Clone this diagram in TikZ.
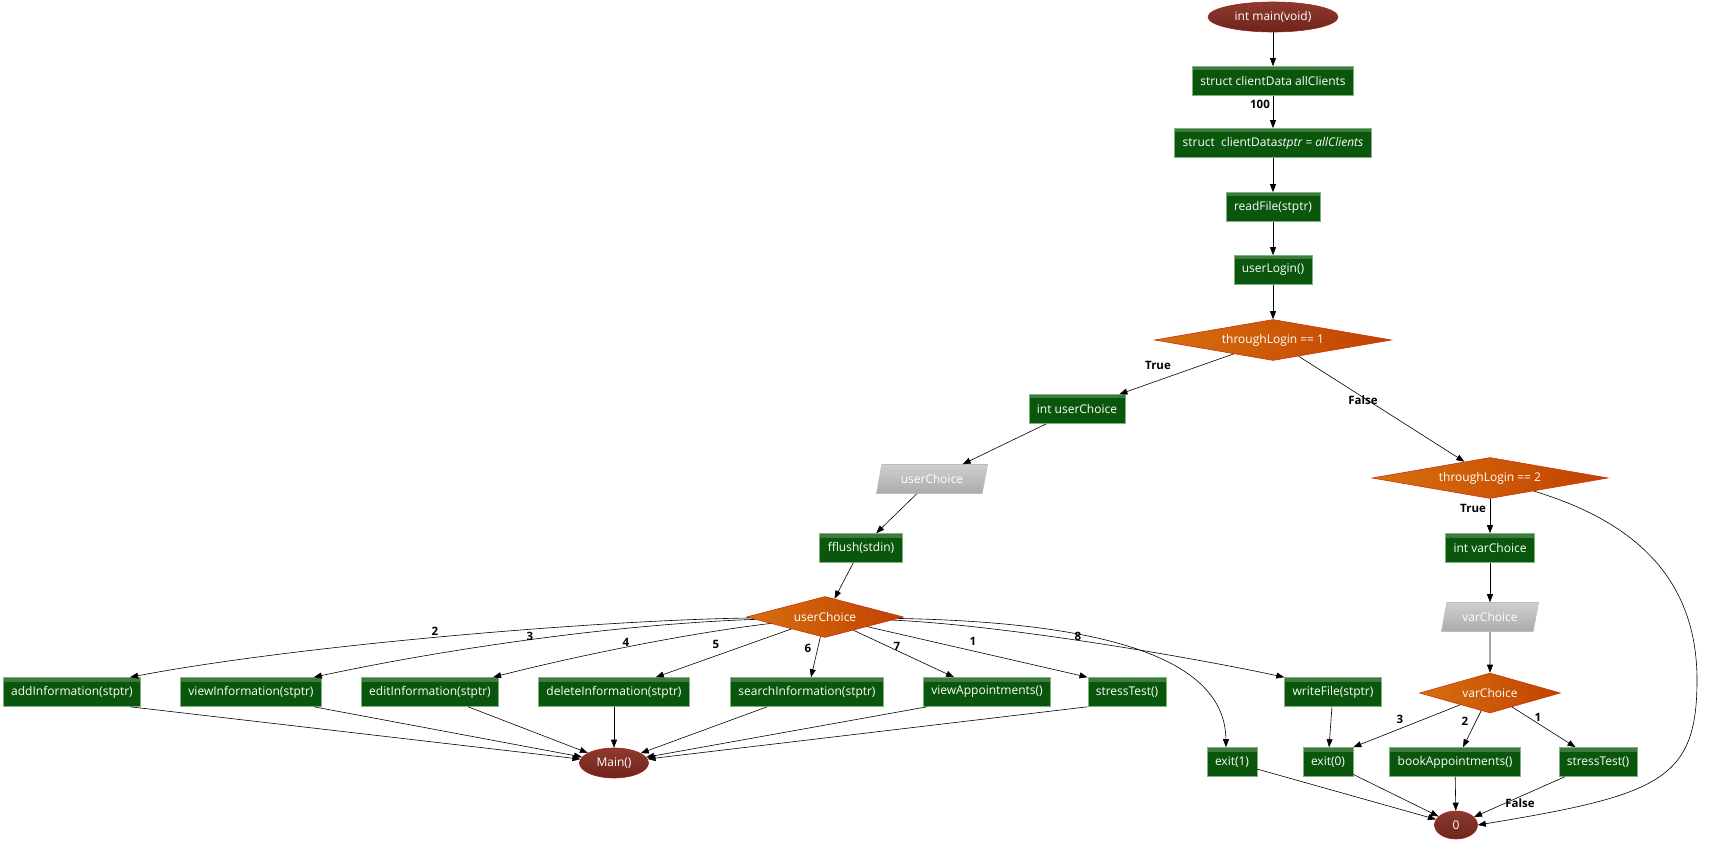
\documentclass[tikz,border=0pt]{standalone}
\usepackage{xcolor}
\usepackage{fontspec}
\setmainfont{Open Sans}
\usetikzlibrary{shapes.geometric,arrows.meta,positioning}

\definecolor{procfill}{HTML}{0A560C}
\definecolor{procline}{HTML}{7DB37D}
\definecolor{condleft}{HTML}{D6700F}
\definecolor{condright}{HTML}{C24200}
\definecolor{condline}{HTML}{CC3210}
\definecolor{termtop}{HTML}{8E3A2E}
\definecolor{termbot}{HTML}{6E241C}
\definecolor{termline}{HTML}{A32222}
\definecolor{iotop}{HTML}{CFCFCF}
\definecolor{iobot}{HTML}{ABABAB}

\tikzset{
  txt/.style={text=white, font=\fontsize{12}{14}\selectfont},
  proc/.style={txt, rectangle, draw=procline, fill=procfill, line width=0.6pt,
    minimum height=29pt, inner xsep=8pt, inner ysep=0pt,
    path picture={\fill[white,opacity=.22] (path picture bounding box.north west)
      rectangle ([yshift=-4pt]path picture bounding box.north east);}},
  cond/.style={txt, diamond, draw=condline, left color=condleft, right color=condright,
    line width=0.6pt, aspect=6, inner sep=0pt, minimum width=#1, minimum height=41pt},
  term/.style={txt, ellipse, draw=termline, top color=termtop, bottom color=termbot,
    line width=0.6pt, inner sep=0pt, minimum width=#1, minimum height=30pt},
  io/.style={txt, trapezium, trapezium left angle=60, trapezium right angle=120,
    trapezium stretches body, draw=iobot!80!white, top color=iotop, bottom color=iobot,
    line width=0.6pt, inner sep=0pt, minimum width=#1, minimum height=29pt},
  flow/.style={draw=black, line width=0.6pt, -{Triangle[length=8pt,width=6pt]}},
  elabel/.style={font=\fontsize{11.5}{13}\selectfont\bfseries, inner sep=1pt}
}

\begin{document}
\begin{tikzpicture}[x=1pt,y=-1pt]
    \useasboundingbox (0,0) rectangle (1714,858);

    % Start up
    \node[term=130pt] (main) at (1273,17) {int main(void)};
    \node[proc] (alloc) at (1273,81) {struct clientData allClients};
    \node[proc] (ptr) at (1273,143) {struct\ \ clientData\textit{stptr = allClients}};
    \node[proc] (readf) at (1273,207) {readFile(stptr)};
    \node[proc] (login) at (1273,270) {userLogin()};
    \node[cond=237pt] (tl1) at (1273,340) {throughLogin == 1};

    % Client menu
    \node[proc] (uvar) at (1077,409) {int userChoice};
    \node[io=111pt] (uin) at (932,479) {userChoice};
    \node[proc] (flush) at (861,548) {fflush(stdin)};
    \node[cond=157pt] (uc) at (825,617) {userChoice};

    \node[proc] (add) at (72,692) {addInformation(stptr)};
    \node[proc] (view) at (251,692) {viewInformation(stptr)};
    \node[proc] (edit) at (430,692) {editInformation(stptr)};
    \node[proc] (del) at (614,692) {deleteInformation(stptr)};
    \node[proc] (search) at (807,692) {searchInformation(stptr)};
    \node[proc] (appt) at (987,692) {viewAppointments()};
    \node[proc] (stress) at (1127,692) {stressTest()};
    \node[proc] (write) at (1333,692) {writeFile(stptr)};
    \node[proc] (exit1) at (1232,762) {exit(1)};
    \node[proc] (exit0) at (1328,762) {exit(0)};
    \node[term=69pt] (mainret) at (614,763) {Main()};

    % Staff menu
    \node[cond=236pt] (tl2) at (1490,478) {throughLogin == 2};
    \node[proc] (vvar) at (1490,548) {int varChoice};
    \node[io=97pt] (vin) at (1490,617) {varChoice};
    \node[cond=141pt, minimum height=40pt] (vc) at (1490,693) {varChoice};
    \node[proc] (book) at (1455,762) {bookAppointments()};
    \node[proc] (stress2) at (1598,762) {stressTest()};
    \node[term=43pt, minimum height=28pt] (zero) at (1456,825) {0};

    % Edge labels
    \node[elabel] (l100) at (1260,104) {100};
    \node[elabel] (ltrue1) at (1158,365) {True};
    \node[elabel] (lfalse1) at (1363,400) {False};
    \node[elabel] (ltrue2) at (1473,508) {True};
    \node[elabel] (lfalse2) at (1520,803) {False};
    \node[elabel] (lu2) at (435,631) {2};
    \node[elabel] (lu3) at (530,636) {3};
    \node[elabel] (lu4) at (626,642) {4};
    \node[elabel] (lu5) at (716,644) {5};
    \node[elabel] (lu6) at (808,648) {6};
    \node[elabel] (lu7) at (897,646) {7};
    \node[elabel] (lu1) at (973,641) {1};
    \node[elabel] (lu8) at (1078,636) {8};
    \node[elabel] (lv3) at (1400,719) {3};
    \node[elabel] (lv2) at (1465,721) {2};
    \node[elabel] (lv1) at (1538,717) {1};

    % Main chain
    \draw[flow] (main) -- (alloc);
    \draw[flow] (alloc) -- (ptr);
    \draw[flow] (ptr) -- (readf);
    \draw[flow] (readf) -- (login);
    \draw[flow] (login) -- (tl1);
    \draw[flow] (tl1) -- ([xshift=-6pt]uvar.north east);
    \draw[flow] (tl1) -- (tl2);

    % userChoice branches
    \draw[flow] (uvar) -- (uin);
    \draw[flow] (uin) -- (flush);
    \draw[flow] (flush) -- (uc);
    \draw[flow] (uc) .. controls (600,620) and (300,645) .. ([xshift=-11pt]add.north east);
    \draw[flow] (uc) .. controls (620,624) and (450,648) .. ([xshift=-8pt]view.north east);
    \draw[flow] (uc) .. controls (690,633) and (580,655) .. ([xshift=-6pt]edit.north east);
    \draw[flow] (uc) -- ([xshift=-34pt]del.north east);
    \draw[flow] (uc) -- ([xshift=4pt]search.north);
    \draw[flow] (uc) -- ([xshift=31pt]appt.north west);
    \draw[flow] (uc) -- (stress.north west);
    \draw[flow] (uc) .. controls (1000,625) and (1180,655) .. (write.north west);
    \draw[flow] (uc) .. controls (1080,622) and (1225,650) .. ([xshift=-6pt]exit1.north);

    % back to Main()
    \draw[flow] ([xshift=-11pt]add.south east) -- (mainret);
    \draw[flow] ([xshift=-8pt]view.south east) -- (mainret);
    \draw[flow] ([xshift=-31pt]edit.south east) -- (mainret);
    \draw[flow] (del) -- (mainret);
    \draw[flow] ([xshift=37pt]search.south west) -- (mainret);
    \draw[flow] ([xshift=4pt]appt.south west) -- (mainret);
    \draw[flow] (stress.south west) -- (mainret);

    % varChoice branches
    \draw[flow] (tl2) -- (vvar);
    \draw[flow] (vvar) -- (vin);
    \draw[flow] (vin) -- (vc);
    \draw[flow] (vc) -- (exit0.north east);
    \draw[flow] (vc) -- ([xshift=8pt]book.north);
    \draw[flow] (vc) -- ([xshift=17pt]stress2.north west);
    \draw[flow] (write) -- (exit0);

    % exits
    \draw[flow] (exit1) -- (zero);
    \draw[flow] (exit0) -- (zero);
    \draw[flow] (book) -- (zero);
    \draw[flow] (stress2) -- (zero);
    \draw[flow] (tl2) .. controls (1630,520) and (1697,575) .. (1697,680)
        .. controls (1697,780) and (1660,795) .. (zero.east);
\end{tikzpicture}
\end{document}
